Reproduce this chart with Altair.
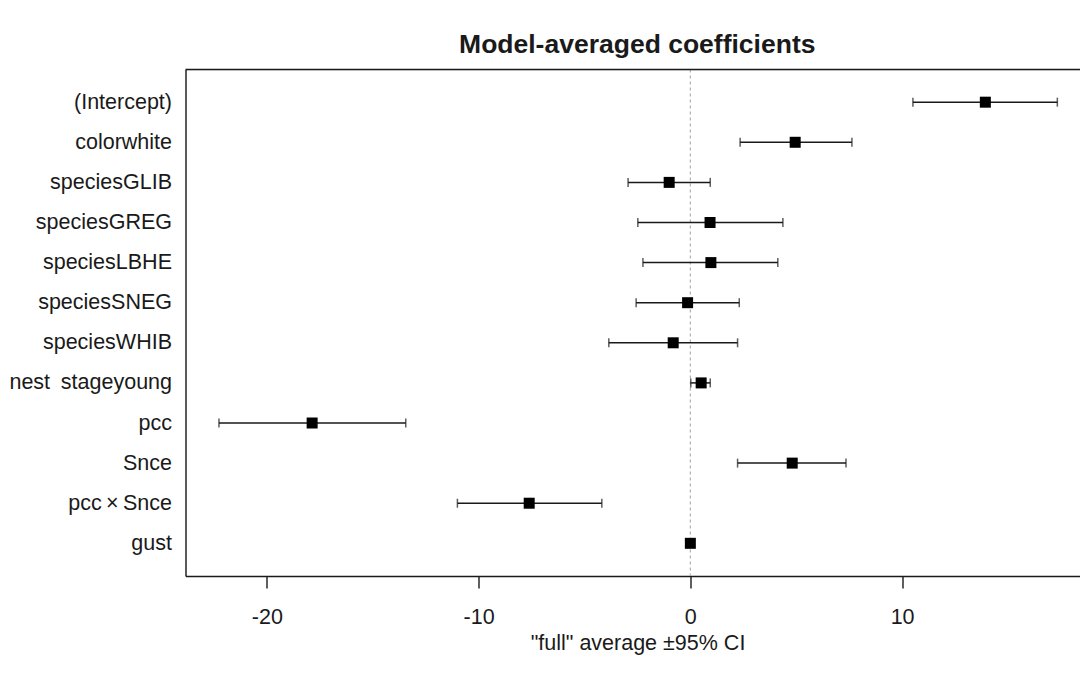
import altair as alt
import pandas as pd

terms = ["(Intercept)", "colorwhite", "speciesGLIB", "speciesGREG", "speciesLBHE",
         "speciesSNEG", "speciesWHIB", "nest\u2002stageyoung", "pcc", "Snce",
         "pcc\u2009\u00d7\u2009Snce", "gust"]
estimate = [13.93, 4.95, -1.00, 0.93, 0.97, -0.13, -0.81, 0.51, -17.86, 4.81, -7.61, 0.00]
lower = [10.51, 2.35, -2.94, -2.48, -2.24, -2.56, -3.85, 0.02, -22.26, 2.23, -11.00, -0.02]
upper = [17.33, 7.63, 0.94, 4.37, 4.13, 2.31, 2.23, 0.94, -13.44, 7.35, -4.18, 0.02]
x_ticks = [-20, -10, 0, 10]

df = pd.DataFrame({"term": terms, "est": estimate, "lo": lower, "hi": upper})
zero_df = pd.DataFrame({"z": [0]})

W = 894.5
H = 506.5
FONT = "Liberation Sans, Arial"
INK = "#1a1a1a"
FS = 21.5

xscale = alt.Scale(domain=[-23.84, 18.40], nice=False, zero=False)
yscale = alt.Scale(type="point", padding=0.815)

y_enc = alt.Y("term:N", sort=terms, scale=yscale,
              axis=alt.Axis(title=None, ticks=False, labelPadding=14, labelFontSize=FS,
                            labelFont=FONT, labelColor=INK, domainColor=INK, domainWidth=1.4,
                            grid=False, labelAlign="right", labelLimit=0))

zero_line = alt.Chart(zero_df).mark_rule(color="#b0b0b0", strokeDash=[3, 3], strokeWidth=1.2).encode(
    x=alt.X("z:Q", scale=xscale)
)

bars = alt.Chart(df).mark_rule(color=INK, strokeWidth=1.5).encode(
    x=alt.X("lo:Q", scale=xscale,
            axis=alt.Axis(values=x_ticks, title='"full" average \u00b195% CI', tickSize=12,
                          tickColor=INK, tickWidth=1.4, domainColor=INK, domainWidth=1.4,
                          labelFontSize=FS, labelFont=FONT, labelColor=INK, labelPadding=18.5,
                          labelExpr="toString(datum.value)",
                          titleFont=FONT, titleFontSize=FS, titleFontWeight="normal",
                          titleColor=INK, titleBaseline="alphabetic", titleX=452, titleY=73,
                          titleAnchor="start", titleAlign="center", grid=False)),
    x2="hi:Q",
    y=y_enc,
)

caps_lo = alt.Chart(df).mark_tick(color=INK, size=9, thickness=1.5).encode(
    x=alt.X("lo:Q", scale=xscale), y=alt.Y("term:N", sort=terms, scale=yscale))
caps_hi = alt.Chart(df).mark_tick(color=INK, size=9, thickness=1.5).encode(
    x=alt.X("hi:Q", scale=xscale), y=alt.Y("term:N", sort=terms, scale=yscale))

points = alt.Chart(df).mark_square(color="black", opacity=1, size=121, filled=True).encode(
    x=alt.X("est:Q", scale=xscale), y=alt.Y("term:N", sort=terms, scale=yscale))

top_border = alt.Chart(zero_df).mark_rule(color=INK, strokeWidth=1.4).encode(
    x=alt.value(0), x2=alt.value(W), y=alt.value(0))

chart = alt.layer(zero_line, bars, caps_lo, caps_hi, points, top_border).properties(
    width=W, height=H,
    title=alt.TitleParams("Model-averaged coefficients", font=FONT, fontSize=26.5,
                          fontWeight="bold", color=INK, anchor="middle", dx=4.5, dy=27,
                          baseline="alphabetic", offset=16),
    autosize=alt.AutoSizeParams(type="none"),
    padding={"left": 185.5, "top": 69.5, "right": 0, "bottom": 107},
).configure_view(stroke=None).configure(background="white")

chart.save("out.html", embed_options={"renderer": "svg", "actions": False})
